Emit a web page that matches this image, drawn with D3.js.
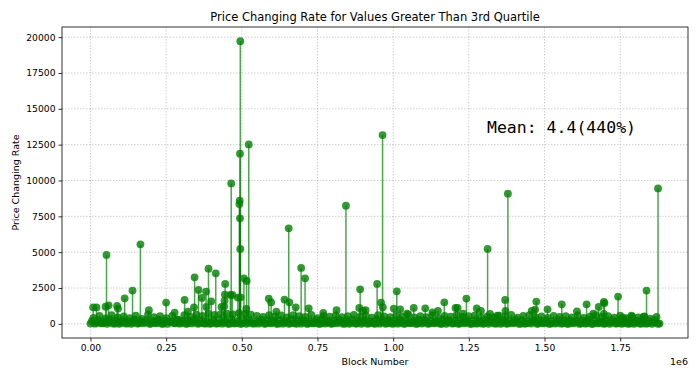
<!DOCTYPE html>
<html><head><meta charset="utf-8">
<script src="https://cdn.jsdelivr.net/npm/d3@7"></script>
<style>body{margin:0;background:#fff}svg{display:block}</style>
</head><body>
<script>
// Peaks (block number in thousands, price changing rate)
const peakBlocksK = [9,20,50,53,60,88,91,113,139,165,193,250,278,311,322,342,344,357,368,382,383,390,399,414,433,442,443,444,445,462,465,469,487,492,493,494,494,495,495,496,507,515,516,523,589,597,614,641,655,657,678,696,709,721,769,813,844,888,891,901,909,947,960,965,966,1002,1012,1023,1046,1068,1106,1130,1148,1169,1206,1213,1231,1242,1276,1290,1312,1320,1344,1370,1371,1379,1458,1469,1473,1510,1557,1607,1639,1661,1679,1696,1696,1698,1743,1758,1787,1827,1837,1875];
const peakRates = [1157,1150,1200,4808,1296,1254,1066,1784,2320,5547,950,1484,790,1672,857,1157,3247,2369,1812,2250,1185,3853,1575,3526,1185,1226,1623,2040,2787,2021,9798,2021,1833,8362,8592,7359,11868,5226,19721,1854,3178,1045,2997,12516,1763,1505,857,1693,6662,1505,1157,3902,3178,1087,766,948,8244,1115,2411,900,948,2787,1484,13171,1157,1066,2272,1017,718,1115,1087,808,906,1505,1115,1115,718,1763,1087,906,5226,697,578,1672,906,9080,906,997,1554,1017,1366,878,1366,718,1185,1533,700,1450,1902,440,578,488,2320,9449];
// Dense low-level band (block number in thousands, rate)
const bandBlocksK = [0,10,20,30,40,50,60,70,80,90,100,110,120,130,140,150,160,170,180,190,200,210,220,230,240,250,260,270,280,290,300,310,320,330,340,350,360,370,380,390,400,410,420,430,440,450,460,470,480,490,500,510,520,530,540,550,560,570,580,590,600,610,620,630,640,650,660,670,680,690,700,710,720,730,740,750,760,770,780,790,800,810,820,830,840,850,860,870,880,890,900,910,920,930,940,950,960,970,980,990,1000,1010,1020,1030,1040,1050,1060,1070,1080,1090,1100,1110,1120,1130,1140,1150,1160,1170,1180,1190,1200,1210,1220,1230,1240,1250,1260,1270,1280,1290,1300,1310,1320,1330,1340,1350,1360,1370,1380,1390,1400,1410,1420,1430,1440,1450,1460,1470,1480,1490,1500,1510,1520,1530,1540,1550,1560,1570,1580,1590,1600,1610,1620,1630,1640,1650,1660,1670,1680,1690,1700,1710,1720,1730,1740,1750,1760,1770,1780,1790,1800,1810,1820,1830,1840,1850,1860,1870,1880];
const bandRates = [20,420,80,560,30,380,120,610,10,450,60,520,15,400,90,580,40,350,110,640,25,470,70,530,5,390,140,560,35,300,80,600,20,480,130,650,45,560,10,700,60,620,30,680,100,720,15,660,50,750,20,700,85,640,10,560,120,480,30,600,70,520,15,590,95,450,40,610,5,540,110,480,25,620,60,400,10,560,80,500,30,590,120,460,15,540,70,620,20,480,90,560,35,430,5,600,100,520,45,470,15,580,80,500,25,640,60,450,10,530,95,470,30,600,70,420,5,560,110,500,40,620,20,480,85,540,10,590,60,440,25,510,100,450,15,570,70,500,30,620,90,430,5,550,45,600,120,470,20,520,65,410,15,560,80,480,35,530,10,450,100,590,25,420,55,510,5,600,75,470,20,540,90,430,30,580,60,390,10,500,85,450,15,520,40,370,100,480,20];
const band2BlocksK = [5,15,25,35,45,55,65,75,85,95,105,115,125,135,145,155,165,175,185,195,205,215,225,235,245,255,265,275,285,295,305,315,325,335,345,355,365,375,385,395,405,415,425,435,445,455,465,475,485,495,505,515,525,535,545,555,565,575,585,595,605,615,625,635,645,655,665,675,685,695,705,715,725,735,745,755,765,775,785,795,805,815,825,835,845,855,865,875,885,895,905,915,925,935,945,955,965,975,985,995,1005,1015,1025,1035,1045,1055,1065,1075,1085,1095,1105,1115,1125,1135,1145,1155,1165,1175,1185,1195,1205,1215,1225,1235,1245,1255,1265,1275,1285,1295,1305,1315,1325,1335,1345,1355,1365,1375,1385,1395,1405,1415,1425,1435,1445,1455,1465,1475,1485,1495,1505,1515,1525,1535,1545,1555,1565,1575,1585,1595,1605,1615,1625,1635,1645,1655,1665,1675,1685,1695,1705,1715,1725,1735,1745,1755,1765,1775,1785,1795,1805,1815,1825,1835,1845,1855,1865,1875];
const band2Rates = [
  200,10,260,50,180,0,300,30,220,5,
  240,60,170,0,280,20,210,45,250,0,
  190,35,270,10,230,0,160,55,290,15,
  200,0,250,30,310,5,220,40,180,0,
  260,20,300,10,240,0,330,25,210,5,
  280,0,250,40,190,10,270,0,230,35,
  200,5,260,15,180,0,290,45,220,10,
  250,0,170,30,240,5,280,20,200,0,
  230,40,260,10,190,0,270,25,210,5,
  250,0,180,35,300,15,220,0,240,30,
  200,10,260,0,230,45,190,5,270,20,
  250,0,210,35,180,10,290,0,240,25,
  200,5,260,40,220,0,230,15,190,10,
  280,0,250,30,210,5,240,0,200,45,
  270,10,230,0,180,25,260,5,220,35,
  250,0,190,20,280,10,210,0,240,40,
  200,5,230,15,270,0,250,30,180,10,
  220,0,260,25,200,5,240,15,190,0,
  230,20,250,10,210,0,260,5];
const xTicks = [0,250000,500000,750000,1000000,1250000,1500000,1750000];
const xTickLabels = ["0.00","0.25","0.50","0.75","1.00","1.25","1.50","1.75"];
const yTicks = [0,2500,5000,7500,10000,12500,15000,17500,20000];
const titleText = "Price Changing Rate for Values Greater Than 3rd Quartile";
const meanText = "Mean: 4.4(440%)";
const meanPos = [1310000, 13300];

const W = 700, H = 379;
const m = {left: 62, right: 12, top: 27, bottom: 41};
const svg = d3.select("body").append("svg").attr("width", W).attr("height", H)
  .style("font-family","'DejaVu Sans', sans-serif");

const points = bandBlocksK.map((b,i)=>({x:b*1000,y:bandRates[i]}))
  .concat(band2BlocksK.map((b,i)=>({x:b*1000,y:band2Rates[i]})))
  .concat(peakBlocksK.map((b,i)=>({x:b*1000,y:peakRates[i]})))
  .filter(d=>d.y!==undefined);

const xMax = d3.max(points,d=>d.x), yMax = d3.max(points,d=>d.y);
const xPad = xMax*0.05, yPad = yMax*0.05;
const x = d3.scaleLinear().domain([-xPad, xMax+xPad]).range([m.left, W-m.right]);
const y = d3.scaleLinear().domain([-yPad, yMax+yPad]).range([H-m.bottom, m.top]);

// grid
const g = svg.append("g");
g.selectAll(".vg").data(xTicks).join("line")
  .attr("x1",d=>x(d)).attr("x2",d=>x(d)).attr("y1",m.top).attr("y2",H-m.bottom)
  .attr("stroke","#b0b0b0").attr("stroke-width",0.6).attr("stroke-dasharray","1.5,1.5");
g.selectAll(".hg").data(yTicks).join("line")
  .attr("y1",d=>y(d)).attr("y2",d=>y(d)).attr("x1",m.left).attr("x2",W-m.right)
  .attr("stroke","#b0b0b0").attr("stroke-width",0.6).attr("stroke-dasharray","1.5,1.5");

// stems and markers
const plot = svg.append("g");
plot.selectAll(".stem").data(points).join("line")
  .attr("x1",d=>x(d.x)).attr("x2",d=>x(d.x)).attr("y1",y(0)).attr("y2",d=>y(d.y))
  .attr("stroke","green").attr("stroke-opacity",0.7).attr("stroke-width",1.5);
plot.selectAll(".mk").data(points).join("circle")
  .attr("cx",d=>x(d.x)).attr("cy",d=>y(d.y)).attr("r",3.9)
  .attr("fill","green").attr("fill-opacity",0.8);

// axes
const xAxis = svg.append("g").attr("transform",`translate(0,${H-m.bottom})`)
  .call(d3.axisBottom(x).tickValues(xTicks).tickFormat((d,i)=>xTickLabels[i]).tickSize(3.5).tickPadding(3));
const yAxis = svg.append("g").attr("transform",`translate(${m.left},0)`)
  .call(d3.axisLeft(y).tickValues(yTicks).tickFormat(d=>String(d)).tickSize(3.5).tickPadding(3));
[xAxis,yAxis].forEach(a=>{
  a.select(".domain").remove();
  a.selectAll("text").attr("font-family","DejaVu Sans").attr("font-size",9.2).attr("fill","#000");
  a.selectAll("line").attr("stroke","#000").attr("stroke-width",0.8);
});
svg.append("rect").attr("x",m.left).attr("y",m.top).attr("width",W-m.left-m.right).attr("height",H-m.top-m.bottom)
  .attr("fill","none").attr("stroke","#000").attr("stroke-width",0.8);

// labels
svg.append("text").attr("x",(m.left+W-m.right)/2).attr("y",21).attr("text-anchor","middle")
  .attr("font-size",11.5).text(titleText);
svg.append("text").attr("x",(m.left+W-m.right)/2).attr("y",365).attr("text-anchor","middle")
  .attr("font-size",9.5).text("Block Number");
svg.append("text").attr("transform",`translate(19,${(m.top+H-m.bottom)/2}) rotate(-90)`).attr("text-anchor","middle")
  .attr("font-size",9.5).text("Price Changing Rate");
svg.append("text").attr("x",W-m.right).attr("y",365).attr("text-anchor","end")
  .attr("font-size",9.5).text("1e6");
svg.append("text").attr("x",x(meanPos[0])).attr("y",y(meanPos[1]))
  .style("font-family","'DejaVu Sans Mono', monospace").attr("font-size",16.5).text(meanText);
</script>
</body></html>
